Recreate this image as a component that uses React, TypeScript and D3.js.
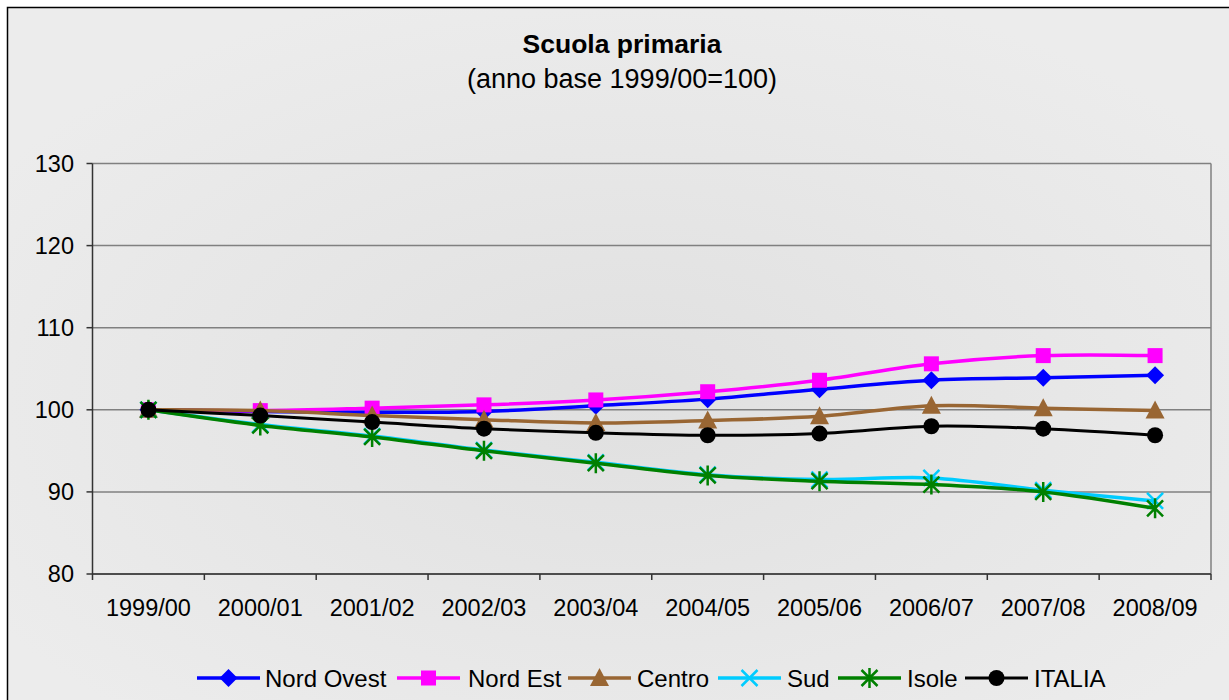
import React, { useEffect } from 'react'
import * as d3 from 'd3'

const anni = ['1999/00', '2000/01', '2001/02', '2002/03', '2003/04', '2004/05', '2005/06', '2006/07', '2007/08', '2008/09']
const nordOvest = [100, 99.8, 99.7, 99.8, 100.5, 101.3, 102.5, 103.6, 103.9, 104.2]
const nordEst = [100, 99.9, 100.2, 100.6, 101.2, 102.2, 103.6, 105.6, 106.6, 106.6]
const centro = [100, 99.9, 99.3, 98.8, 98.4, 98.7, 99.2, 100.5, 100.2, 99.9]
const sud = [100, 98.2, 96.8, 95.1, 93.6, 92.1, 91.5, 91.7, 90.2, 88.9]
const isole = [100, 98.1, 96.7, 95.0, 93.5, 92.0, 91.3, 90.9, 90.0, 88.0]
const italia = [100, 99.3, 98.5, 97.7, 97.2, 96.9, 97.1, 98.0, 97.7, 96.9]
const yTicks = [80, 90, 100, 110, 120, 130]

const serie = [
	{ nome: 'Nord Ovest', valori: nordOvest, colore: '#0000ff', marker: 'diamond', w: 3.5 },
	{ nome: 'Nord Est', valori: nordEst, colore: '#ff00ff', marker: 'square', w: 3.5 },
	{ nome: 'Centro', valori: centro, colore: '#996633', marker: 'triangle', w: 3.5 },
	{ nome: 'Sud', valori: sud, colore: '#00ccff', marker: 'x', w: 3.5 },
	{ nome: 'Isole', valori: isole, colore: '#008000', marker: 'star', w: 3.5 },
	{ nome: 'ITALIA', valori: italia, colore: '#000000', marker: 'circle', w: 3 },
]

const font = '"Liberation Sans", Arial, sans-serif'

function Marker({ tipo, x, y, colore }) {
	if (tipo === 'diamond') {
		const s = 9
		return <path d={`M${x},${y - s}L${x + s},${y}L${x},${y + s}L${x - s},${y}Z`} fill={colore} />
	}
	if (tipo === 'square') {
		return <rect x={x - 7.5} y={y - 7.5} width={15} height={15} fill={colore} />
	}
	if (tipo === 'triangle') {
		return <path d={`M${x},${y - 10}L${x + 9.5},${y + 8}L${x - 9.5},${y + 8}Z`} fill={colore} />
	}
	if (tipo === 'circle') {
		return <circle cx={x} cy={y} r={8} fill={colore} />
	}
	if (tipo === 'x') {
		const s = 8
		return <path d={`M${x - s},${y - s}L${x + s},${y + s}M${x + s},${y - s}L${x - s},${y + s}`} stroke={colore} strokeWidth={2.5} />
	}
	// star = x + vertical line
	const s = 8
	return <path d={`M${x - s},${y - s}L${x + s},${y + s}M${x + s},${y - s}L${x - s},${y + s}M${x},${y - 10}L${x},${y + 10}`} stroke={colore} strokeWidth={2.5} />
}

export default function App() {
	useEffect(() => {
		document.body.style.margin = '0'
	}, [])

	const width = 1229
	const height = 700
	const plot = { left: 92.5, right: 1211, top: 163.5, bottom: 574 }

	const x = d3.scaleBand().domain(anni).range([plot.left, plot.right])
	const y = d3.scaleLinear().domain([80, 130]).range([plot.bottom, plot.top])
	const cx = (a) => x(a) + x.bandwidth() / 2

	const line = d3.line()
		.x((d, i) => cx(anni[i]))
		.y((d) => y(d))
		.curve(d3.curveCatmullRom.alpha(0.5))

	const legendItems = [
		{ lx: 197, tx: 265 },
		{ lx: 397, tx: 468 },
		{ lx: 568, tx: 637 },
		{ lx: 718, tx: 787 },
		{ lx: 838, tx: 907 },
		{ lx: 965, tx: 1034 },
	]
	const legendY = 678

	return (
		<svg width={width} height={height} style={{ display: 'block' }}>
			<defs>
				<radialGradient id="bg" cx="0.5" cy="0.55" r="0.6">
					<stop offset="0" stopColor="#e0e0e0" />
					<stop offset="1" stopColor="#ececec" />
				</radialGradient>
			</defs>
			<rect x={0} y={0} width={width} height={height} fill="#ffffff" />
			<rect x={7.5} y={7.5} width={width + 10} height={height + 10} fill="url(#bg)" stroke="#000" strokeWidth={1.5} />

			<text x={622} y={53} textAnchor="middle" fontFamily={font} fontWeight="bold" fontSize={26.5}>Scuola primaria</text>
			<text x={622} y={88} textAnchor="middle" fontFamily={font} fontSize={27}>(anno base 1999/00=100)</text>

			{/* griglia */}
			{yTicks.map((t) => (
				<line key={`g-${t}`} x1={plot.left} x2={plot.right} y1={y(t)} y2={y(t)} stroke="#808080" strokeWidth={1.5} />
			))}
			<line x1={plot.right} x2={plot.right} y1={plot.top} y2={plot.bottom} stroke="#808080" strokeWidth={1.5} />

			{/* assi */}
			<line x1={plot.left} x2={plot.left} y1={plot.top} y2={plot.bottom + 6} stroke="#333" strokeWidth={1.5} />
			<line x1={plot.left} x2={plot.right} y1={plot.bottom} y2={plot.bottom} stroke="#333" strokeWidth={1.5} />
			{yTicks.map((t) => (
				<g key={`yt-${t}`}>
					<line x1={plot.left - 6} x2={plot.left} y1={y(t)} y2={y(t)} stroke="#333" strokeWidth={1.5} />
					<text x={74} y={y(t)} dy="0.36em" textAnchor="end" fontFamily={font} fontSize={23.5}>{t}</text>
				</g>
			))}
			{anni.map((a, i) => (
				<g key={`xt-${a}`}>
					<line x1={x(a) + x.bandwidth()} x2={x(a) + x.bandwidth()} y1={plot.bottom} y2={plot.bottom + 6} stroke="#333" strokeWidth={1.5} />
					<text x={cx(a)} y={616} textAnchor="middle" fontFamily={font} fontSize={23.5}>{a}</text>
				</g>
			))}

			{/* serie */}
			{serie.map((s) => (
				<g key={s.nome}>
					<path d={line(s.valori)} fill="none" stroke={s.colore} strokeWidth={s.w} strokeLinejoin="round" />
					{s.valori.map((v, i) => (
						<Marker key={i} tipo={s.marker} x={cx(anni[i])} y={y(v)} colore={s.colore} />
					))}
				</g>
			))}

			{/* legenda */}
			{serie.map((s, i) => (
				<g key={`leg-${s.nome}`}>
					<line x1={legendItems[i].lx} x2={legendItems[i].lx + 63} y1={legendY} y2={legendY} stroke={s.colore} strokeWidth={s.w} />
					<Marker tipo={s.marker} x={legendItems[i].lx + 31.5} y={legendY} colore={s.colore} />
					<text x={legendItems[i].tx} y={legendY} dy="0.36em" fontFamily={font} fontSize={24}>{s.nome}</text>
				</g>
			))}
		</svg>
	)
}
